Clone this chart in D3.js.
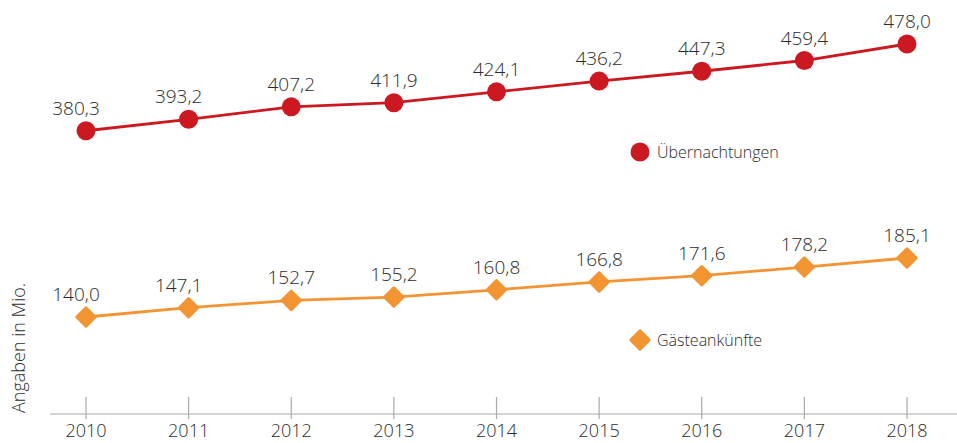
<!DOCTYPE html>
<html>
<head>
<meta charset="utf-8">
<script src="https://cdn.jsdelivr.net/npm/d3@7"></script>
<style>
  body { margin: 0; background: #fff; }
  text { font-family: "Open Sans", sans-serif; font-weight: 300; fill: #2b2b2b; }
</style>
</head>
<body>
<div id="chart"></div>
<script>
// data
var years = [2010, 2011, 2012, 2013, 2014, 2015, 2016, 2017, 2018];
var uebernachtungen = [380.3, 393.2, 407.2, 411.9, 424.1, 436.2, 447.3, 459.4, 478.0];
var gaesteankuenfte = [140.0, 147.1, 152.7, 155.2, 160.8, 166.8, 171.6, 178.2, 185.1];
var seriesNames = ["Übernachtungen", "Gästeankünfte"];
var yLabel = "Angaben in Mio.";

var red = "#cc1921",
    orange = "#f39433";

var width = 957, height = 443;

var svg = d3.select("#chart").append("svg")
    .attr("width", width)
    .attr("height", height);

var x = d3.scalePoint()
    .domain(years)
    .range([86, 907]);

// broken axis: each series gets its own band
var yTop = d3.scaleLinear().domain([380, 478]).range([131, 44]);
var yBot = d3.scaleLinear().domain([140, 185.1]).range([317, 258]);

var fmt = function(v) { return d3.format(".1f")(v).replace(".", ","); };

// x axis
var axisY = 414;
svg.append("line")
    .attr("x1", 50).attr("x2", width)
    .attr("y1", axisY).attr("y2", axisY)
    .attr("stroke", "#aaa").attr("stroke-width", 1.2);

var ticks = svg.selectAll(".tick")
    .data(years)
    .enter().append("g")
    .attr("class", "tick")
    .attr("transform", function(d) { return "translate(" + x(d) + ",0)"; });

ticks.append("line")
    .attr("y1", axisY - 17).attr("y2", axisY + 5)
    .attr("stroke", "#aaa").attr("stroke-width", 1.2);

ticks.append("text")
    .attr("y", 437)
    .attr("text-anchor", "middle")
    .style("font-size", "18px")
    .text(function(d) { return d; });

// y label
svg.append("text")
    .attr("transform", "translate(25,413) rotate(-90)")
    .attr("text-anchor", "start")
    .style("font-size", "18px")
    .text(yLabel);

function drawSeries(data, y, color, shape) {
    var g = svg.append("g");
    var line = d3.line()
        .x(function(d, i) { return x(years[i]); })
        .y(function(d) { return y(d); });

    g.append("path")
        .datum(data)
        .attr("fill", "none")
        .attr("stroke", color)
        .attr("stroke-width", 2.8)
        .attr("d", line);

    var pts = g.selectAll(".pt")
        .data(data)
        .enter().append("g")
        .attr("class", "pt")
        .attr("transform", function(d, i) { return "translate(" + x(years[i]) + "," + y(d) + ")"; });

    if (shape == "circle") {
        pts.append("circle").attr("r", 9.5).attr("fill", color);
    } else {
        pts.append("rect")
            .attr("x", -8).attr("y", -8)
            .attr("width", 16).attr("height", 16)
            .attr("rx", 1.5)
            .attr("transform", "rotate(45)")
            .attr("fill", color);
    }

    pts.append("text")
        .attr("y", -16)
        .attr("x", function(d, i) { return i < 2 ? -10 : 0; })
        .attr("text-anchor", "middle")
        .style("font-size", "19px")
        .text(fmt);
}

drawSeries(uebernachtungen, yTop, red, "circle");
drawSeries(gaesteankuenfte, yBot, orange, "diamond");

// legends
var leg1 = svg.append("g").attr("transform", "translate(640,152)");
leg1.append("circle").attr("r", 9.5).attr("fill", red);
leg1.append("text").attr("x", 17).attr("y", 6).style("font-size", "16px").text(seriesNames[0]);

var leg2 = svg.append("g").attr("transform", "translate(640,340)");
leg2.append("rect")
    .attr("x", -8).attr("y", -8).attr("width", 16).attr("height", 16)
    .attr("rx", 1.5)
    .attr("transform", "rotate(45)")
    .attr("fill", orange);
leg2.append("text").attr("x", 17).attr("y", 6).style("font-size", "16px").text(seriesNames[1]);
</script>
</body>
</html>
